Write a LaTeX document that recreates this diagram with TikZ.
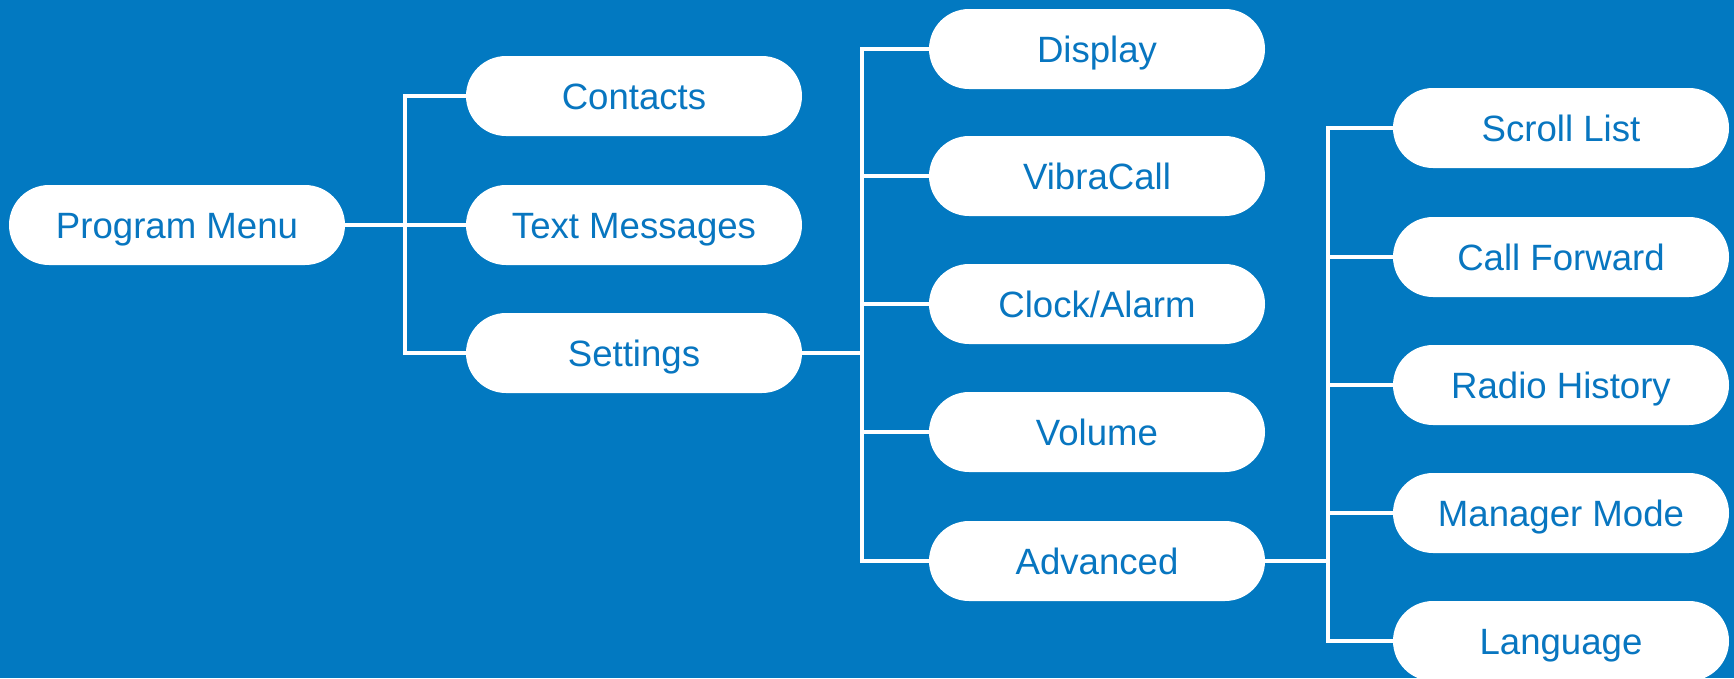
\documentclass[tikz,border=0pt]{standalone}
\usepackage{fontspec}
\setmainfont{Liberation Sans}
\definecolor{bgblue}{RGB}{2,121,193}
\definecolor{txtblue}{RGB}{8,118,192}
\begin{document}
\begin{tikzpicture}[x=1pt,y=-1pt,
  item/.style={fill=white,draw=none,rounded corners=40pt,minimum width=336pt,minimum height=80pt,inner sep=0pt,text height=26.2pt,text depth=0pt,text=txtblue,font=\fontsize{36.6pt}{40pt}\selectfont},
  conn/.style={draw=white,line width=4pt,line join=miter}]
\fill[bgblue] (0,0) rectangle (1734,678);
\useasboundingbox (0,0) rectangle (1734,678);
\node[item] (pm) at (177,225) {Program Menu};
\node[item] (contacts) at (634,96) {Contacts};
\node[item] (text) at (634,225) {Text Messages};
\node[item] (settings) at (634,353) {Settings};
\node[item] (display) at (1097,49) {Display};
\node[item] (vibra) at (1097,176) {VibraCall};
\node[item] (clock) at (1097,304) {Clock/Alarm};
\node[item] (volume) at (1097,432) {Volume};
\node[item] (advanced) at (1097,561) {Advanced};
\node[item] (scroll) at (1561,128) {Scroll List};
\node[item] (forward) at (1561,257) {Call Forward};
\node[item] (radio) at (1561,385) {Radio History};
\node[item] (manager) at (1561,513) {Manager Mode};
\node[item] (language) at (1561,641) {Language};
\coordinate (t1) at (405,225);
\coordinate (t2) at (862,353);
\coordinate (t3) at (1328,561);
% level 1
\draw[conn] (pm.east) -- (text.west);
\draw[conn] (contacts.west) -- (contacts.west -| t1) -- (settings.west -| t1) -- (settings.west);
% level 2
\draw[conn] (settings.east) -- (t2);
\draw[conn] (display.west) -- (display.west -| t2) -- (advanced.west -| t2) -- (advanced.west);
\draw[conn] (vibra.west) -- (vibra.west -| t2);
\draw[conn] (clock.west) -- (clock.west -| t2);
\draw[conn] (volume.west) -- (volume.west -| t2);
% level 3
\draw[conn] (advanced.east) -- (t3);
\draw[conn] (scroll.west) -- (scroll.west -| t3) -- (language.west -| t3) -- (language.west);
\draw[conn] (forward.west) -- (forward.west -| t3);
\draw[conn] (radio.west) -- (radio.west -| t3);
\draw[conn] (manager.west) -- (manager.west -| t3);
\end{tikzpicture}
\end{document}
